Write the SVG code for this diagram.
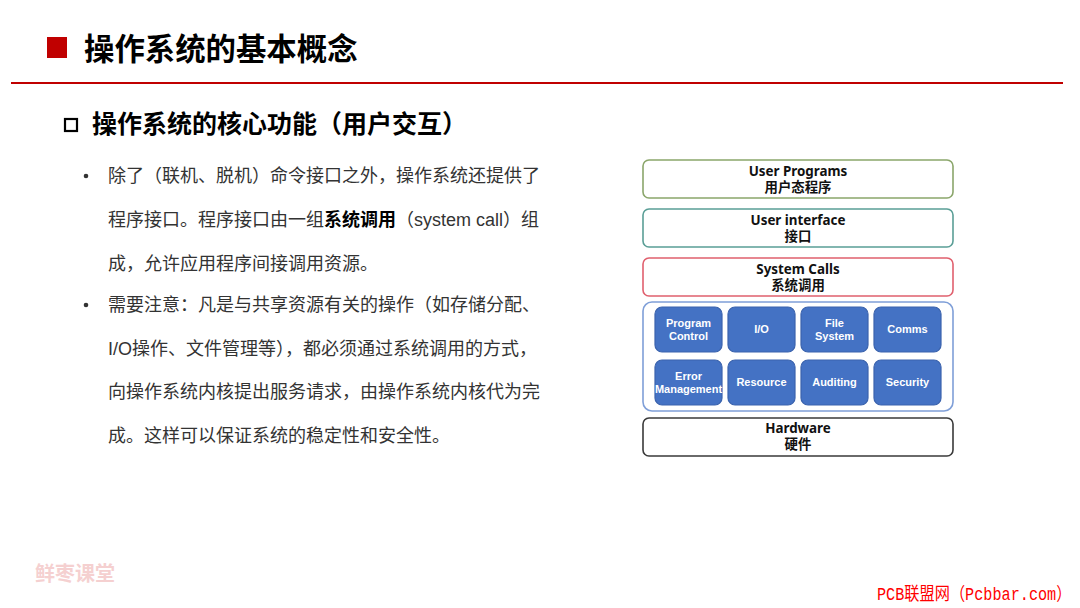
<svg xmlns="http://www.w3.org/2000/svg" width="1080" height="608" viewBox="0 0 1080 608">
<style>
.title{font-family:"Noto Sans CJK SC",sans-serif;font-weight:bold;fill:#000}
.body{font-family:"Liberation Sans","Noto Sans CJK SC",sans-serif;font-size:18px;fill:#333}
.lbl{font-family:"Noto Sans","Noto Sans CJK SC",sans-serif;font-weight:bold;font-size:13.4px;fill:#111;text-anchor:middle}
.layer{fill:#fff;stroke-width:1.6}
.mod{fill:#4472C4;stroke:#3B63AD;stroke-width:1.2}
.mt{font-family:"Liberation Sans",Arial,sans-serif;font-weight:bold;font-size:11px;fill:#fff;text-anchor:middle}
</style>
<rect width="1080" height="608" fill="#fff"/>
<g id="header">
<rect x="47" y="37" width="20" height="21" fill="#C00000"/>
<text class="title" x="84" y="60" font-size="30.4">操作系统的基本概念</text>
<line x1="11" y1="83" x2="1063" y2="83" stroke="#C00000" stroke-width="2"/>
<rect x="65" y="119" width="12" height="12" fill="none" stroke="#000" stroke-width="2.2"/>
<text class="title" x="92" y="133" font-size="25">操作系统的核心功能（用户交互）</text>
</g>
<g id="text">
<circle cx="86" cy="176" r="2.3" fill="#333"/>
<text class="body" x="108" y="182">除了（联机、脱机）命令接口之外，操作系统还提供了</text>
<text class="body" x="108" y="226">程序接口。程序接口由一组<tspan font-weight="bold" fill="#000">系统调用</tspan>（system call）组</text>
<text class="body" x="108" y="270">成，允许应用程序间接调用资源。</text>
<circle cx="86" cy="305" r="2.3" fill="#333"/>
<text class="body" x="108" y="311">需要注意：凡是与共享资源有关的操作（如存储分配、</text>
<text class="body" x="108" y="355">I/O操作、文件管理等），都必须通过系统调用的方式，</text>
<text class="body" x="108" y="398">向操作系统内核提出服务请求，由操作系统内核代为完</text>
<text class="body" x="108" y="442">成。这样可以保证系统的稳定性和安全性。</text>
</g>
<g id="user-programs">
<rect class="layer" x="643" y="160" width="310" height="38" rx="6" stroke="#8BA66B"/>
<text class="lbl" x="798" y="176">User Programs</text>
<text class="lbl" x="798" y="192">用户态程序</text>
</g>
<g id="user-interface">
<rect class="layer" x="643" y="209" width="310" height="38" rx="6" stroke="#5A9E96"/>
<text class="lbl" x="798" y="225">User interface</text>
<text class="lbl" x="798" y="241">接口</text>
</g>
<g id="system-calls">
<rect class="layer" x="643" y="258" width="310" height="38" rx="6" stroke="#E0606E"/>
<text class="lbl" x="798" y="274">System Calls</text>
<text class="lbl" x="798" y="290">系统调用</text>
</g>
<g id="kernel">
<rect x="643" y="302" width="310" height="109" rx="9" fill="#fff" stroke="#7F9FD8" stroke-width="1.6"/>
</g>
<g id="program-control">
<rect class="mod" x="655" y="307" width="67" height="45" rx="7"/>
<text class="mt" x="688.5" y="327">Program</text>
<text class="mt" x="688.5" y="340">Control</text>
</g>
<g id="io">
<rect class="mod" x="728" y="307" width="67" height="45" rx="7"/>
<text class="mt" x="761.5" y="333">I/O</text>
</g>
<g id="file-system">
<rect class="mod" x="801" y="307" width="67" height="45" rx="7"/>
<text class="mt" x="834.5" y="327">File</text>
<text class="mt" x="834.5" y="340">System</text>
</g>
<g id="comms">
<rect class="mod" x="874" y="307" width="67" height="45" rx="7"/>
<text class="mt" x="907.5" y="333">Comms</text>
</g>
<g id="error-management">
<rect class="mod" x="655" y="360" width="67" height="45" rx="7"/>
<text class="mt" x="688.5" y="380" font-size="9.5">Error</text>
<text class="mt" x="688.5" y="393" font-size="9.5">Management</text>
</g>
<g id="resource">
<rect class="mod" x="728" y="360" width="67" height="45" rx="7"/>
<text class="mt" x="761.5" y="386">Resource</text>
</g>
<g id="auditing">
<rect class="mod" x="801" y="360" width="67" height="45" rx="7"/>
<text class="mt" x="834.5" y="386">Auditing</text>
</g>
<g id="security">
<rect class="mod" x="874" y="360" width="67" height="45" rx="7"/>
<text class="mt" x="907.5" y="386">Security</text>
</g>
<g id="hardware">
<rect class="layer" x="643" y="418" width="310" height="38" rx="6" stroke="#3A3A3A"/>
<text class="lbl" x="798" y="433">Hardware</text>
<text class="lbl" x="798" y="449">硬件</text>
</g>
<g id="connectors"></g>
<g id="footer">
<text x="35" y="581" font-family="Noto Sans CJK SC,sans-serif" font-weight="bold" font-size="20" fill="#F5D0D0">鲜枣课堂</text>
<text transform="translate(877,600) scale(1,1.18)" font-family="Liberation Mono,Noto Sans CJK SC,monospace" font-size="15.2" fill="#FF0000">PCB联盟网（Pcbbar.com）</text>
</g>
</svg>
